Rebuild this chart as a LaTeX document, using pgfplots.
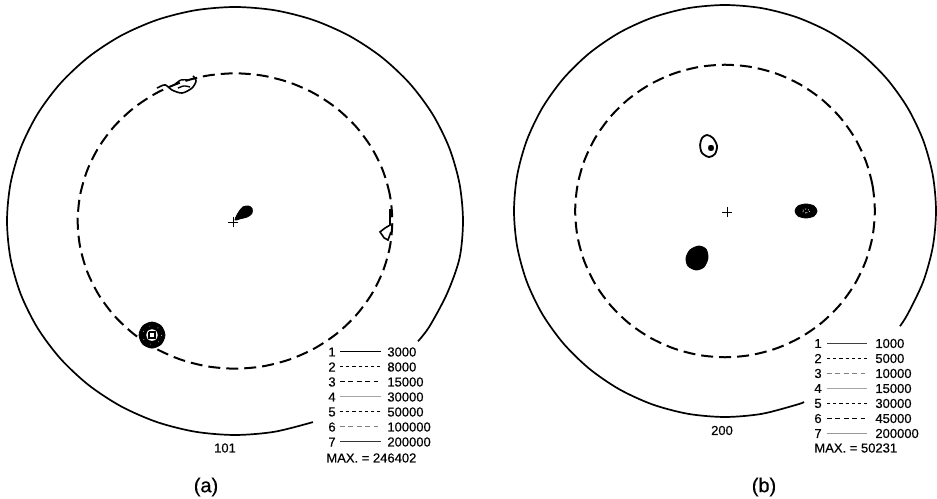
\documentclass[border=0pt]{standalone}
\usepackage{pgfplots}
\pgfplotsset{compat=1.18}
\usepackage{fontspec}
\setmainfont{Liberation Sans}
\newfontfamily\semib{Liberation Sans}[FakeBold=0.45]
\newcommand\lf{\fontsize{6.5}{7.8}\semib}
\begin{document}
\begin{tikzpicture}
\pgfplotsset{pf/.style={scale only axis, axis line style={draw=none}, ticks=none, height=249pt}}
% ---------------- (a) 101 ----------------
\begin{axis}[pf, at={(0pt,0pt)}, anchor=south west, width=235pt,
  xmin=-1.0307, xmax=1.0307, ymin=-1.2944, ymax=1.0327]
\addplot[black, line width=0.85pt, smooth, data cs=polar] coordinates {
(-35,0.98) (-30,0.985) (-20,0.99) (-10,1) (0,1) (10,1) (20,1) (30,1) (40,1) (50,1) (60,1) (70,1) (80,1) (90,1) (100,1) (110,1) (120,1) (130,1) (140,1) (150,1) (160,1) (170,1) (180,1) (190,1) (200,1) (210,1) (220,1) (230,1) (240,1) (250,1) (260,1) (270,1) (280,1) (290,1)};
\addplot[black, line width=1pt, dash pattern=on 6pt off 3pt, smooth cycle, data cs=polar] coordinates {
(0,0.69) (10,0.69) (20,0.69) (30,0.69) (40,0.69) (50,0.69) (60,0.69) (70,0.69) (80,0.69) (90,0.69) (100,0.69) (110,0.69) (120,0.69) (130,0.69) (140,0.69) (150,0.69) (160,0.69) (170,0.69) (180,0.69) (190,0.69) (200,0.69) (210,0.69) (220,0.69) (230,0.69) (240,0.69) (250,0.69) (260,0.69) (270,0.69) (280,0.69) (290,0.69) (300,0.69) (310,0.69) (320,0.69) (330,0.69) (340,0.69) (350,0.69)};
% top contour
\addplot[black, line width=0.8pt, smooth] coordinates {(-0.342,0.621) (-0.307,0.636) (-0.276,0.612) (-0.232,0.598) (-0.189,0.621) (-0.171,0.654) (-0.184,0.678)};
\addplot[black, line width=0.7pt, smooth] coordinates {(-0.263,0.640) (-0.237,0.659) (-0.211,0.659)};
\addplot[black, line width=0.7pt, smooth] coordinates {(-0.250,0.621) (-0.224,0.631) (-0.197,0.626)};
% centre blob
\addplot[black, fill=black, smooth cycle] coordinates {(0.0000,0.0050) (0.0150,0.0400) (0.0351,0.0660) (0.0600,0.0700) (0.0750,0.0580) (0.0740,0.0350) (0.0540,0.0190) (0.0219,0.0100)};
\addplot[black, mark=+, mark size=2.5pt, only marks] coordinates {(-0.0088,-0.0047)};
% right bump
\addplot[black, line width=0.8pt] coordinates {(0.680,0.056) (0.680,-0.019) (0.658,-0.033) (0.636,-0.051) (0.654,-0.079) (0.671,-0.089) (0.684,-0.051)};
% lower left spot
\addplot[black, fill=black, smooth cycle] coordinates {(-0.307,-0.533) (-0.324,-0.576) (-0.364,-0.594) (-0.404,-0.576) (-0.421,-0.533) (-0.404,-0.490) (-0.364,-0.472) (-0.324,-0.490)};
\addplot[white, line width=0.3pt, loosely dotted, smooth cycle] coordinates {(-0.322,-0.533) (-0.334,-0.564) (-0.364,-0.577) (-0.394,-0.564) (-0.406,-0.533) (-0.394,-0.502) (-0.364,-0.489) (-0.334,-0.502)};
\addplot[white, fill=white, smooth cycle] coordinates {(-0.341,-0.533) (-0.347,-0.551) (-0.364,-0.558) (-0.381,-0.551) (-0.387,-0.533) (-0.381,-0.515) (-0.364,-0.508) (-0.347,-0.515)};
\addplot[black, line width=1pt] coordinates {(-0.376,-0.520) (-0.352,-0.520) (-0.352,-0.546) (-0.376,-0.546) (-0.376,-0.520)};
\end{axis}
% ---------------- (b) 200 ----------------
\begin{axis}[pf, at={(235pt,0pt)}, anchor=south west, width=233.5pt,
  xmin=-1.2085, xmax=1.0047, ymin=-1.3932, ymax=1.0243]
\addplot[black, line width=0.85pt, smooth, data cs=polar] coordinates {
(-34,1) (-30,1) (-20,1) (-10,1) (0,1) (10,1) (20,1) (30,1) (40,1) (50,1) (60,1) (70,1) (80,1) (90,1) (100,1) (110,1) (120,1) (130,1) (140,1) (150,1) (160,1) (170,1) (180,1) (190,1) (200,1) (210,1) (220,1) (230,1) (240,1) (250,1) (260,1) (270,1) (280,1) (290,1) (292,1)};
\addplot[black, line width=1pt, dash pattern=on 6pt off 3pt, smooth cycle, data cs=polar] coordinates {
(0,0.71) (10,0.71) (20,0.71) (30,0.71) (40,0.71) (50,0.71) (60,0.71) (70,0.71) (80,0.71) (90,0.71) (100,0.71) (110,0.71) (120,0.71) (130,0.71) (140,0.71) (150,0.71) (160,0.71) (170,0.71) (180,0.71) (190,0.71) (200,0.71) (210,0.71) (220,0.71) (230,0.71) (240,0.71) (250,0.71) (260,0.71) (270,0.71) (280,0.71) (290,0.71) (300,0.71) (310,0.71) (320,0.71) (330,0.71) (340,0.71) (350,0.71)};
\addplot[black, mark=+, mark size=2.5pt, only marks] coordinates {(0.0095,-0.005)};
% upper ring
\addplot[black, line width=0.9pt, smooth cycle] coordinates {(-0.0853,0.369) (-0.0569,0.354) (-0.0379,0.316) (-0.0474,0.277) (-0.0758,0.262) (-0.109,0.282) (-0.118,0.320) (-0.109,0.354)};
\addplot[black, fill=black, smooth cycle] coordinates {(-0.0758,0.316) (-0.0569,0.316) (-0.0569,0.296) (-0.0758,0.296)};
% right spot
\addplot[black, fill=black, smooth cycle] coordinates {(0.436,0) (0.4218,-0.0243) (0.3839,-0.034) (0.346,-0.0243) (0.3318,0) (0.346,0.0243) (0.3839,0.034) (0.4218,0.0243)};
\addplot[white, line width=0.4pt, densely dotted, smooth cycle] coordinates {(0.4028,0) (0.3839,-0.0097) (0.365,0) (0.3839,0.0097)};
% lower left spot
\addplot[black, fill=black, smooth cycle] coordinates {(-0.0900,-0.1850) (-0.0806,-0.2282) (-0.0995,-0.2718) (-0.1374,-0.2864) (-0.1754,-0.2670) (-0.1848,-0.2282) (-0.1659,-0.1893) (-0.1250,-0.1700)};
\end{axis}
% ---------------- legends and labels ----------------
\begin{scope}[every node/.style={inner sep=0pt, font=\lf}]
% (a)
\node[anchor=west] at (164pt,73pt) {1};   \draw[line width=0.5pt] (170pt,73pt) -- (190.5pt,73pt);   \node[anchor=west] at (193.5pt,73pt) {3000};
\node[anchor=west] at (164pt,65.5pt) {2}; \draw[line width=0.5pt, dash pattern=on 1.6pt off 1.5pt] (170pt,65.5pt) -- (190.5pt,65.5pt); \node[anchor=west] at (193.5pt,65.5pt) {8000};
\node[anchor=west] at (164pt,58pt) {3};   \draw[line width=0.5pt, dash pattern=on 2.4pt off 1.8pt] (170pt,58pt) -- (190.5pt,58pt);   \node[anchor=west] at (193.5pt,58pt) {15000};
\node[anchor=west] at (164pt,50.5pt) {4}; \draw[line width=0.5pt, gray!70] (170pt,50.5pt) -- (190.5pt,50.5pt); \node[anchor=west] at (193.5pt,50.5pt) {30000};
\node[anchor=west] at (164pt,43pt) {5};   \draw[line width=0.5pt, dash pattern=on 1.6pt off 1.5pt] (170pt,43pt) -- (190.5pt,43pt);   \node[anchor=west] at (193.5pt,43pt) {50000};
\node[anchor=west] at (164pt,35.5pt) {6}; \draw[line width=0.5pt, gray, dash pattern=on 2.4pt off 1.8pt] (170pt,35.5pt) -- (190.5pt,35.5pt); \node[anchor=west] at (193.5pt,35.5pt) {100000};
\node[anchor=west] at (164pt,28pt) {7};   \draw[line width=0.5pt, black!80] (170pt,28pt) -- (190.5pt,28pt);   \node[anchor=west] at (193.5pt,28pt) {200000};
\node[anchor=west] at (163pt,20pt) {MAX. = 246402};
\node at (112.5pt,25pt) {101};
\node[font=\fontsize{10}{12}\semib] at (103pt,5.5pt) {(a)};
% (b)
\node[anchor=west] at (407pt,77.25pt) {1}; \draw[line width=0.5pt, black!75] (413.5pt,77.25pt) -- (433.5pt,77.25pt); \node[anchor=west] at (437.5pt,77.25pt) {1000};
\node[anchor=west] at (407pt,69.75pt) {2}; \draw[line width=0.5pt, dash pattern=on 1.6pt off 1.5pt] (413.5pt,69.75pt) -- (433.5pt,69.75pt); \node[anchor=west] at (437.5pt,69.75pt) {5000};
\node[anchor=west] at (407pt,62.25pt) {3}; \draw[line width=0.5pt, gray, dash pattern=on 2.4pt off 1.8pt] (413.5pt,62.25pt) -- (433.5pt,62.25pt); \node[anchor=west] at (437.5pt,62.25pt) {10000};
\node[anchor=west] at (407pt,54.75pt) {4}; \draw[line width=0.5pt, gray!70] (413.5pt,54.75pt) -- (433.5pt,54.75pt); \node[anchor=west] at (437.5pt,54.75pt) {15000};
\node[anchor=west] at (407pt,47.25pt) {5}; \draw[line width=0.5pt, dash pattern=on 1.6pt off 1.5pt] (413.5pt,47.25pt) -- (433.5pt,47.25pt); \node[anchor=west] at (437.5pt,47.25pt) {30000};
\node[anchor=west] at (407pt,39.75pt) {6}; \draw[line width=0.5pt, dash pattern=on 2.4pt off 1.8pt] (413.5pt,39.75pt) -- (433.5pt,39.75pt); \node[anchor=west] at (437.5pt,39.75pt) {45000};
\node[anchor=west] at (407pt,32.25pt) {7}; \draw[line width=0.5pt, gray!80] (413.5pt,32.25pt) -- (433.5pt,32.25pt); \node[anchor=west] at (437.5pt,32.25pt) {200000};
\node[anchor=west] at (407pt,25pt) {MAX. = 50231};
\node at (361pt,33.75pt) {200};
\node[font=\fontsize{10}{12}\semib] at (382pt,5.5pt) {(b)};
\end{scope}
\end{tikzpicture}
\end{document}
